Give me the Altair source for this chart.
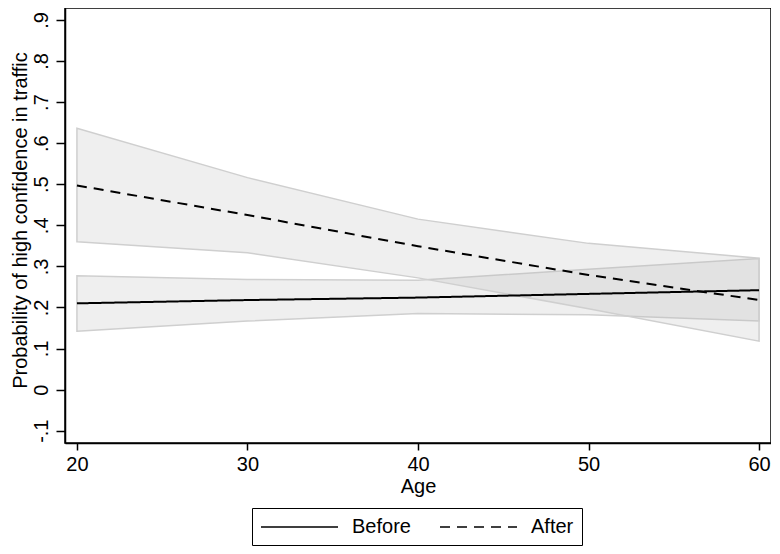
import altair as alt
import pandas as pd

ages = [20, 30, 40, 50, 60]
before_p = [0.210, 0.218, 0.224, 0.233, 0.242]
before_lo = [0.142, 0.167, 0.185, 0.182, 0.167]
before_hi = [0.277, 0.268, 0.266, 0.293, 0.319]
after_p = [0.497, 0.425, 0.349, 0.279, 0.218]
after_lo = [0.360, 0.333, 0.272, 0.197, 0.118]
after_hi = [0.636, 0.516, 0.415, 0.356, 0.320]
groups = ["Before", "After"]
y_ticks = [-0.1, 0.0, 0.1, 0.2, 0.3, 0.4, 0.5, 0.6, 0.7, 0.8, 0.9]
x_ticks = [20, 30, 40, 50, 60]

rows = []
for g, p, lo, hi in [("Before", before_p, before_lo, before_hi),
                     ("After", after_p, after_lo, after_hi)]:
    for a, pv, l, h in zip(ages, p, lo, hi):
        rows.append({"age": a, "group": g, "p": pv, "lo": l, "hi": h})
df = pd.DataFrame(rows)

FONT = "Liberation Sans"
FS = 20

xscale = alt.Scale(domain=[19.3, 60.7], nice=False, zero=False)
yscale = alt.Scale(domain=[-0.13, 0.929], nice=False, zero=False)

xaxis = alt.Axis(values=x_ticks, title="Age", labelFontSize=FS, titleFontSize=FS,
                 titleFontWeight="normal", tickSize=7, tickColor="black",
                 domainColor="black", labelColor="black", titleColor="black",
                 grid=False, labelPadding=4, titlePadding=2, labelFlush=False)
yaxis = alt.Axis(values=y_ticks, title="Probability of high confidence in traffic",
                 labelExpr="datum.value == 0 ? '0' : (datum.value < 0 ? '-' : '') + '.' + format(abs(datum.value) * 10, '.0f')",
                 labelAngle=270, labelAlign="center", labelBaseline="bottom",
                 labelFontSize=FS, titleFontSize=FS, titleFontWeight="normal",
                 tickSize=9, tickColor="black", domainColor="black",
                 labelColor="black", titleColor="black", grid=False,
                 labelPadding=5, titlePadding=1, titleY=212)

bands = alt.Chart(df).mark_area(
    fill="#b8b8b8", fillOpacity=0.22, stroke="#cfcfcf", strokeWidth=1.5
).encode(
    x=alt.X("age:Q", scale=xscale, axis=xaxis),
    y=alt.Y("lo:Q", scale=yscale, axis=yaxis),
    y2="hi:Q",
    detail="group:N",
)

lines = alt.Chart(df).mark_line(color="black", strokeWidth=2).encode(
    x=alt.X("age:Q", scale=xscale),
    y=alt.Y("p:Q", scale=yscale),
    strokeDash=alt.StrokeDash(
        "group:N",
        scale=alt.Scale(domain=groups, range=[[1, 0], [10, 7]]),
        legend=alt.Legend(
            title=None, orient="none", legendX=187, legendY=500,
            direction="horizontal", symbolType="M-1,0H6.7", symbolSize=400,
            symbolStrokeWidth=1.3, symbolStrokeColor="black",
            labelFontSize=FS, labelFont=FONT, labelColor="black",
            labelOffset=70, columnPadding=26, padding=8,
            strokeColor="black", cornerRadius=0,
        ),
    ),
)

chart = alt.layer(bands, lines).properties(
    width=706, height=435,
    autosize=alt.AutoSizeParams(type="none"),
    padding={"left": 57, "top": 0, "right": 0, "bottom": 103},
    background="white",
).configure(font=FONT).configure_view(
    stroke="black", strokeWidth=1.5
).configure_axis(labelFont=FONT, titleFont=FONT, domainWidth=1.5, tickWidth=1.5)

chart.save("out.html", embed_options={"renderer": "svg", "actions": False})
